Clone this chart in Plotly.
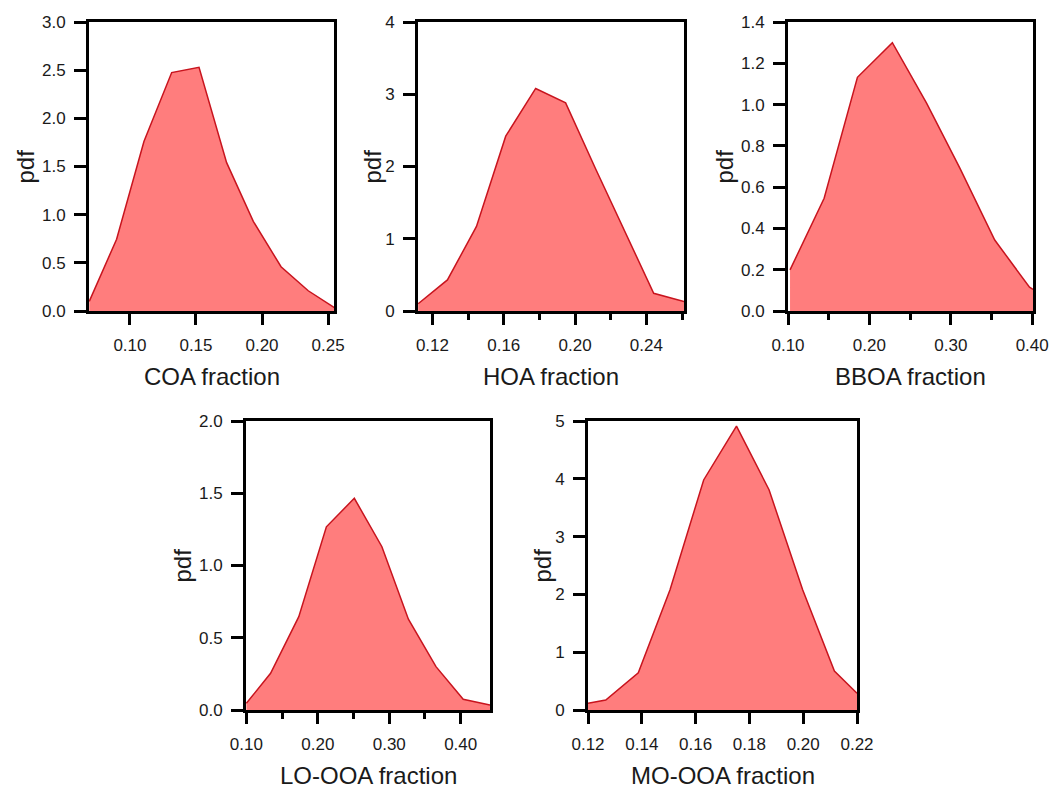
import plotly.graph_objects as go

W, H = 1054, 790

# ---- data ----
coa_x = [0.0692, 0.0899, 0.1106, 0.1316, 0.1523, 0.1732, 0.1934, 0.2144, 0.2350, 0.2553]
coa_y = [0.10, 0.745, 1.76, 2.475, 2.53, 1.54, 0.93, 0.46, 0.21, 0.03]

hoa_x = [0.1120, 0.1284, 0.1447, 0.1611, 0.1779, 0.1947, 0.2113, 0.2279, 0.2441, 0.2611]
hoa_y = [0.10, 0.43, 1.17, 2.42, 3.08, 2.88, 1.98, 1.10, 0.245, 0.13]

bboa_x = [0.1025, 0.1444, 0.1853, 0.2282, 0.2704, 0.3113, 0.3540, 0.3967, 0.4010]
bboa_y = [0.199, 0.546, 1.132, 1.30, 1.006, 0.691, 0.344, 0.115, 0.105]

lo_x = [0.1000, 0.1339, 0.1734, 0.2120, 0.2511, 0.2897, 0.3268, 0.3654, 0.4035, 0.4410]
lo_y = [0.046, 0.254, 0.646, 1.268, 1.465, 1.13, 0.628, 0.30, 0.074, 0.035]

mo_x = [0.1200, 0.1266, 0.1387, 0.1505, 0.1630, 0.1752, 0.1873, 0.1998, 0.2116, 0.2200]
mo_y = [0.116, 0.173, 0.645, 2.08, 3.98, 4.91, 3.81, 2.08, 0.675, 0.29]

x_titles = ["COA fraction", "HOA fraction", "BBOA fraction", "LO-OOA fraction", "MO-OOA fraction"]
y_title = "pdf"

series = [(coa_x, coa_y), (hoa_x, hoa_y), (bboa_x, bboa_y), (lo_x, lo_y), (mo_x, mo_y)]

# ---- layout of panels (pixel boxes) ----
panels = [
    dict(box=(89, 334, 22, 311), xr=[0.069, 0.2545], yr=[0, 3.0], xt0=0.10, xdt=0.05, xmin=None,
         ydt=0.5, xfmt=".2f", yfmt=".1f", ytx=25),
    dict(box=(418, 684, 22, 311), xr=[0.1119, 0.2611], yr=[0, 4], xt0=0.12, xdt=0.04, xmin=0.02,
         ydt=1, xfmt=".2f", yfmt="d", ytx=372),
    dict(box=(788, 1033, 22, 311), xr=[0.100, 0.401], yr=[0, 1.4], xt0=0.10, xdt=0.10, xmin=0.05,
         ydt=0.2, xfmt=".2f", yfmt=".1f", ytx=724),
    dict(box=(246, 490, 421, 710), xr=[0.0995, 0.441], yr=[0, 2.0], xt0=0.10, xdt=0.10, xmin=0.05,
         ydt=0.5, xfmt=".2f", yfmt=".1f", ytx=182),
    dict(box=(588, 857, 421, 710), xr=[0.12, 0.22], yr=[0, 5], xt0=0.12, xdt=0.02, xmin=None,
         ydt=1, xfmt=".2f", yfmt="d", ytx=542),
]

FILL = "rgb(255,125,125)"
LINE = "rgb(200,20,30)"
FONT = "Liberation Sans, Arial, sans-serif"
TXT = "#1a1a1a"

fig = go.Figure()
layout = dict(width=W, height=H, margin=dict(l=0, r=0, t=0, b=0, pad=0, autoexpand=False),
              paper_bgcolor="white", plot_bgcolor="white", showlegend=False,
              font=dict(family=FONT, color=TXT), annotations=[])

for i, (p, (xs, ys)) in enumerate(zip(panels, series)):
    n = "" if i == 0 else str(i + 1)
    x0, x1, y0, y1 = p["box"]
    fig.add_trace(go.Scatter(x=xs, y=ys, mode="lines", fill="tozeroy",
                             fillcolor=FILL, line=dict(color=LINE, width=1.5),
                             xaxis="x" + n, yaxis="y" + n, hoverinfo="skip"))
    xa = dict(domain=[x0 / W, x1 / W], range=p["xr"], anchor="y" + n,
              showline=True, linewidth=3, linecolor="black", mirror=True,
              ticks="outside", ticklen=11, tickwidth=3, tickcolor="black",
              tick0=p["xt0"], dtick=p["xdt"], tickformat=p["xfmt"], automargin=False,
              showgrid=False, zeroline=False, tickfont=dict(size=17, family=FONT, color=TXT),
              ticklabelstandoff=6)
    if p["xmin"]:
        xa["minor"] = dict(ticks="outside", ticklen=6, tickwidth=3, tickcolor="black",
                           dtick=p["xmin"], tick0=p["xt0"], showgrid=False)
    ya = dict(domain=[1 - y1 / H, 1 - y0 / H], range=p["yr"], anchor="x" + n,
              showline=True, linewidth=3, linecolor="black", mirror=True,
              ticks="outside", ticklen=12, tickwidth=3, tickcolor="black",
              tick0=0, dtick=p["ydt"], tickformat=p["yfmt"], automargin=False,
              showgrid=False, zeroline=False, tickfont=dict(size=17, family=FONT, color=TXT),
              ticklabelstandoff=5)
    layout["xaxis" + n] = xa
    layout["yaxis" + n] = ya
    layout["annotations"].append(dict(
        text=x_titles[i], xref="paper", yref="paper", x=(x0 + x1) / 2 / W,
        y=1 - (y1 + 65) / H, xanchor="center", yanchor="middle", showarrow=False,
        font=dict(size=24, family=FONT, color=TXT)))
    layout["annotations"].append(dict(
        text=y_title, xref="paper", yref="paper", x=p["ytx"] / W,
        y=1 - ((y0 + y1) / 2) / H, xanchor="center", yanchor="middle", showarrow=False,
        textangle=-90, font=dict(size=24, family=FONT, color=TXT)))

fig.update_layout(**layout)
fig.write_html("out.html")
